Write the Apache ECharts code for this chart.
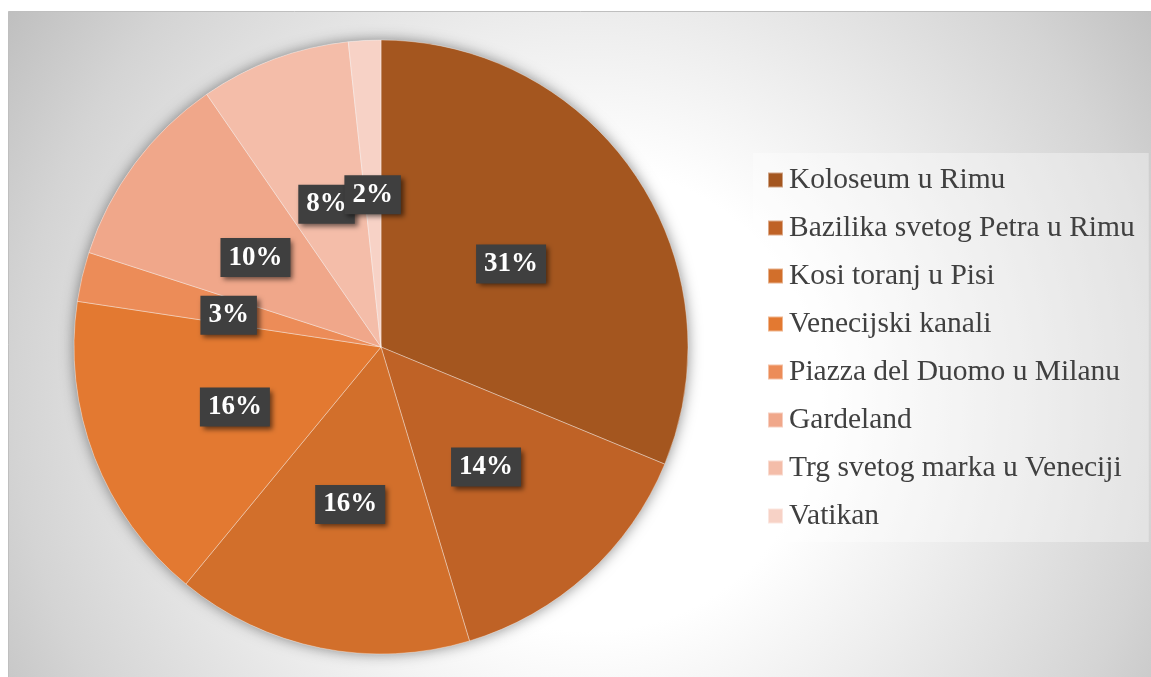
<!DOCTYPE html>
<html>
<head>
<meta charset="utf-8">
<script src="https://cdn.jsdelivr.net/npm/echarts@6/dist/echarts.min.js"></script>
<style>
  html, body { margin: 0; padding: 0; background: #fff; }
  #chart { width: 1151px; height: 677px; }
</style>
</head>
<body>
<div id="chart"></div>
<script>
// slices, clockwise from 12 o'clock
const places = [
  "Koloseum u Rimu",
  "Bazilika svetog Petra u Rimu",
  "Kosi toranj u Pisi",
  "Venecijski kanali",
  "Piazza del Duomo u Milanu",
  "Gardeland",
  "Trg svetog marka u Veneciji",
  "Vatikan"
];
const shares = [31.2, 14.1, 15.6, 16.4, 2.6, 10.4, 7.9, 1.7];
const colors = ["#a4561f", "#bf6226", "#d26f2b", "#e37931", "#ec8c58", "#f0a78a", "#f4bda9", "#f7d2c6"];

const serif = '"Liberation Serif", "Times New Roman", serif';

const chart = echarts.init(document.getElementById("chart"));

chart.setOption({
  animation: false,
  graphic: [
    {
      type: "rect",
      z: -10,
      silent: true,
      shape: { x: 8.5, y: 11.5, width: 1150, height: 670 },
      style: {
        fill: {
          type: "radial", x: 590, y: 400, r: 700, global: true,
          colorStops: [
            { offset: 0, color: "#ffffff" },
            { offset: 0.33, color: "#ffffff" },
            { offset: 0.53, color: "#eeeeee" },
            { offset: 0.82, color: "#d4d4d4" },
            { offset: 1, color: "#bfbfbf" }
          ]
        },
        stroke: "#bfbfbf",
        lineWidth: 1
      }
    }
  ],
  legend: {
    orient: "vertical",
    left: 753,
    top: 153,
    padding: [11, 14, 10, 14],
    backgroundColor: "rgba(255,255,255,0.35)",
    itemWidth: 15,
    itemHeight: 15,
    itemGap: 16,
    icon: "rect",
    textStyle: {
      fontFamily: serif,
      fontSize: 29.5,
      lineHeight: 30,
      color: "#404040",
      padding: [2, 0, 0, 1]
    },
    data: places
  },
  series: [
    {
      // soft shadow under the whole pie
      type: "pie",
      silent: true,
      center: [381, 347],
      radius: 307,
      z: 1,
      label: { show: false },
      labelLine: { show: false },
      itemStyle: {
        color: "#d0d0d0",
        shadowBlur: 14,
        shadowColor: "rgba(0,0,0,0.45)"
      },
      data: [{ value: 1, name: "" }]
    },
    {
      type: "pie",
      center: [381, 347],
      radius: 307,
      startAngle: 90,
      clockwise: true,
      z: 3,
      itemStyle: {
        borderColor: "rgba(255,255,255,0.45)",
        borderWidth: 0.8
      },
      label: {
        show: true,
        position: "inside",
        formatter: p => Math.round(p.percent) + "%",
        fontFamily: serif,
        fontWeight: "bold",
        fontSize: 27,
        lineHeight: 27,
        color: "#ffffff",
        backgroundColor: "#3f3f3f",
        padding: [7, 8, 5, 8],
        shadowColor: "rgba(0,0,0,0.55)",
        shadowBlur: 5,
        shadowOffsetX: 3,
        shadowOffsetY: 3
      },
      labelLayout: { hideOverlap: false, dy: 4 },
      labelLine: { show: false },
      emphasis: { disabled: true },
      data: places.map((name, i) => ({
        name: name,
        value: shares[i],
        itemStyle: { color: colors[i] }
      }))
    }
  ]
});
</script>
</body>
</html>
